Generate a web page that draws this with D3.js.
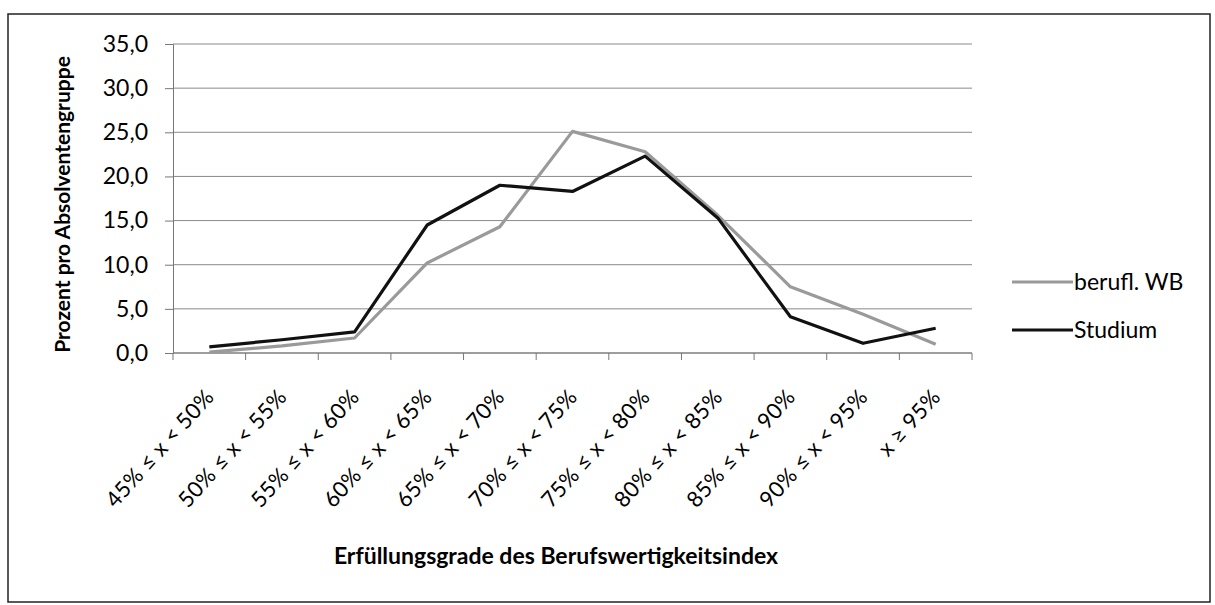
<!DOCTYPE html>
<html>
<head>
<meta charset="utf-8">
<style>
  body { margin: 0; background: #fff; }
  text { font-family: Lato, "Open Sans", sans-serif; fill: #000; }
</style>
</head>
<body>
<svg width="1215" height="605"></svg>
<script src="https://d3js.org/d3.v7.min.js"></script>
<script>
// categories and values
var categories = ["45% ≤ x < 50%", "50% ≤ x < 55%", "55% ≤ x < 60%", "60% ≤ x < 65%",
                  "65% ≤ x < 70%", "70% ≤ x < 75%", "75% ≤ x < 80%", "80% ≤ x < 85%",
                  "85% ≤ x < 90%", "90% ≤ x < 95%", "x ≥ 95%"];
var beruflWB = [0.1, 0.8, 1.7, 10.2, 14.3, 25.1, 22.8, 15.6, 7.5, 4.4, 1.0];
var studium  = [0.7, 1.5, 2.4, 14.5, 19.0, 18.3, 22.3, 15.3, 4.1, 1.1, 2.8];
var yTicks = [0, 5, 10, 15, 20, 25, 30, 35];
var seriesNames = ["berufl. WB", "Studium"];
var seriesColors = ["#9a9a9a", "#111"];

var svg = d3.select("svg");
var plotLeft = 173, plotRight = 972, plotTop = 44, plotBottom = 353;

// outer frame
svg.append("rect")
    .attr("x", 8).attr("y", 14)
    .attr("width", 1202).attr("height", 588)
    .attr("fill", "none").attr("stroke", "#222").attr("stroke-width", 1.5);

var x = d3.scaleBand().domain(categories).range([plotLeft, plotRight]);
var y = d3.scaleLinear().domain([0, 35]).range([plotBottom, plotTop]);

// grid
svg.append("g").selectAll("line")
    .data(yTicks).enter().append("line")
    .attr("x1", plotLeft).attr("x2", plotRight)
    .attr("y1", function(d) { return y(d); })
    .attr("y2", function(d) { return y(d); })
    .attr("stroke", "#8a8a8a").attr("stroke-width", 1);

// y axis
var yAxis = svg.append("g")
    .attr("transform", "translate(" + plotLeft + ",0)")
    .call(d3.axisLeft(y).tickValues(yTicks).tickSize(8).tickPadding(17)
        .tickFormat(function(d) { return d3.format(".1f")(d).replace(".", ","); }));
yAxis.select(".domain").attr("stroke", "#777");
yAxis.selectAll(".tick line").attr("stroke", "#777");
yAxis.selectAll("text").attr("font-size", 23).attr("fill", "#000");

// x axis (ticks at category boundaries)
var bounds = categories.map(function(c) { return x(c); }).concat([plotRight]);
svg.append("line")
    .attr("x1", plotLeft).attr("x2", plotRight)
    .attr("y1", plotBottom).attr("y2", plotBottom)
    .attr("stroke", "#777");
svg.append("g").selectAll("line")
    .data(bounds).enter().append("line")
    .attr("x1", function(d) { return d; }).attr("x2", function(d) { return d; })
    .attr("y1", plotBottom).attr("y2", plotBottom + 7)
    .attr("stroke", "#777");

svg.append("g").selectAll("text")
    .data(categories).enter().append("text")
    .attr("transform", function(d) {
        return "translate(" + (x(d) + x.bandwidth() / 2 + 6) + "," + (plotBottom + 45) + ") rotate(-48)";
    })
    .attr("text-anchor", "end")
    .attr("font-size", 22)
    .attr("letter-spacing", 0.3)
    .text(function(d) { return d; });

// lines
var line = d3.line()
    .x(function(d, i) { return x(categories[i]) + x.bandwidth() / 2; })
    .y(function(d) { return y(d); });

[beruflWB, studium].forEach(function(s, i) {
    svg.append("path")
        .datum(s)
        .attr("fill", "none")
        .attr("stroke", seriesColors[i])
        .attr("stroke-width", 3.2)
        .attr("stroke-linejoin", "round")
        .attr("d", line);
});

// legend
var legend = svg.append("g").selectAll("g")
    .data(seriesNames).enter().append("g")
    .attr("transform", function(d, i) { return "translate(1012," + (282 + i * 48) + ")"; });
legend.append("line")
    .attr("x1", 0).attr("x2", 61)
    .attr("stroke", function(d, i) { return seriesColors[i]; })
    .attr("stroke-width", 3.2);
legend.append("text")
    .attr("x", 62).attr("dy", "0.35em")
    .attr("font-size", 23)
    .text(function(d) { return d; });

// axis titles
svg.append("text")
    .attr("transform", "translate(70," + ((plotTop + plotBottom) / 2 + 6) + ") rotate(-90)")
    .attr("text-anchor", "middle")
    .attr("font-size", 21).attr("font-weight", "bold")
    .text("Prozent pro Absolventengruppe");

svg.append("text")
    .attr("x", 556).attr("y", 564)
    .attr("text-anchor", "middle")
    .attr("font-size", 23).attr("font-weight", "bold")
    .text("Erfüllungsgrade des Berufswertigkeitsindex");
</script>
</body>
</html>
